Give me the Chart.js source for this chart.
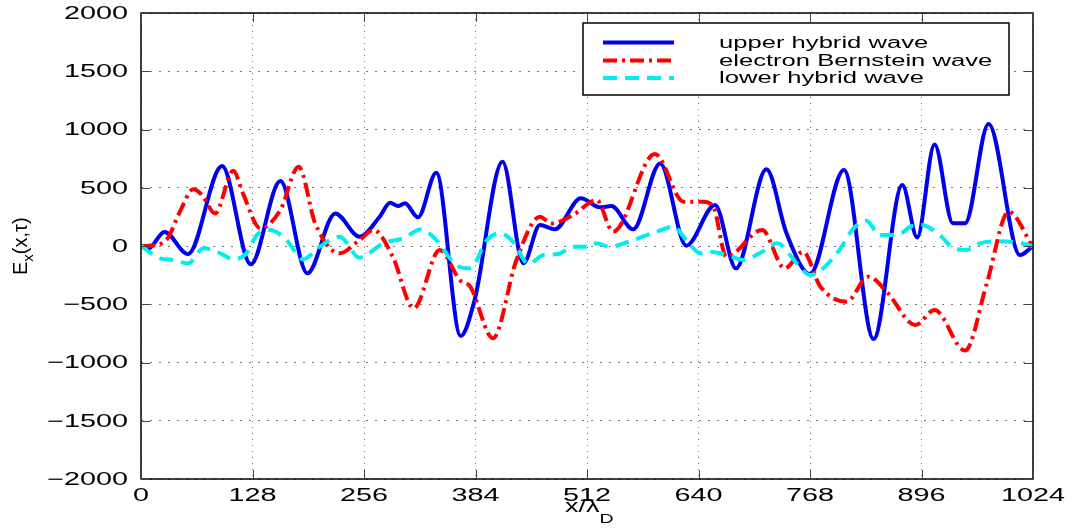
<!DOCTYPE html>
<html>
<head>
<meta charset="utf-8">
<title>E_x(x,τ) wave components</title>
<script src="https://cdn.jsdelivr.net/npm/chart.js@4.4.1/dist/chart.umd.min.js"></script>
<style>
  html, body { margin: 0; padding: 0; background: #ffffff; }
  #wrap { width: 1076px; height: 530px; }
</style>
</head>
<body>
<div id="wrap"><canvas id="c" width="1076" height="530"></canvas></div>
<script>
// Axis ticks
const xTicks = [0, 128, 256, 384, 512, 640, 768, 896, 1024];
const yTicks = [-2000, -1500, -1000, -500, 0, 500, 1000, 1500, 2000];

// Series names
const seriesNames = ['upper hybrid wave', 'electron Bernstein wave', 'lower hybrid wave'];

// upper hybrid wave
const uhX = [0, 8, 27, 54, 93, 126, 160, 191, 223, 251, 274, 286, 295, 303, 318, 339, 367, 383, 415, 439,
             458, 475, 505, 527, 540, 565, 596, 626, 659, 683, 718, 741, 768, 807, 841, 874, 891, 911,
             932, 946, 973, 1009, 1024];
const uhE = [0, -25, 120, -70, 686, -157, 558, -234, 280, 80, 251, 372, 343, 366, 246, 629, -772, -463, 723, -149,
             180, 143, 409, 332, 343, 143, 709, 3, 352, -192, 658, 109, -240, 652, -798, 523, 74, 872,
             195, 195, 1047, -77, 0];

// electron Bernstein wave
const ebX = [0, 10, 29, 45, 60, 70, 85, 106, 117, 137, 160, 181, 200, 228, 251, 267, 289, 313, 343, 366,
             378, 404, 431, 458, 471, 496, 523, 542, 590, 623, 645, 657, 672, 713, 739, 760, 780, 810,
             835, 856, 889, 911, 946, 971, 996, 1024];
const ebE = [0, 3, 51, 300, 487, 438, 280, 646, 452, 152, 309, 680, 194, -63, 51, 137, -92, -535, -34, -292,
             -349, -792, -120, 251, 194, 266, 395, 123, 789, 380, 380, 337, -92, 137, -192, -49, -349, -478,
             -263, -392, -678, -549, -898, -320, 294, -10];

// lower hybrid wave
const lhX = [0, 22, 37, 54, 72, 91, 106, 121, 133, 148, 167, 186, 205, 228, 251, 278, 301, 322, 339, 362,
             378, 397, 412, 427, 445, 462, 479, 496, 515, 523, 538, 565, 592, 611, 626, 642, 653, 672,
             692, 713, 730, 753, 768, 799, 818, 833, 848, 868, 885, 896, 917, 933, 948, 963, 982, 1005, 1024];
const lhE = [0, -106, -120, -149, -20, -63, -114, -63, 94, 137, 51, -114, -6, 80, -100, 23, 66, 143, 51, -163,
             -192, 51, 109, 37, -154, -77, -69, -6, -6, 23, -6, 51, 123, 166, 51, -63, -49, -77,
             -120, -49, 23, -149, -249, -63, 152, 217, 94, 94, 172, 180, 94, -20, -34, 23, 40, 30, 0];

const toPoints = (xs, ys) => xs.map((x, i) => ({ x: x, y: ys[i] }));

const FONT = '"Liberation Sans", Arial, Helvetica, sans-serif';
const STRETCH = 1.6;

function wideText(ctx, text, x, y, align, size, sx) {
  ctx.save();
  ctx.font = size + 'px ' + FONT;
  ctx.translate(x, y);
  ctx.scale(sx, 1);
  ctx.textAlign = align;
  ctx.fillText(text, 0, 0);
  const w = ctx.measureText(text).width * sx;
  ctx.restore();
  return w;
}

const styles = [
  { color: '#0000ee', width: 4, dash: [] },
  { color: '#ff0000', width: 4, dash: [14, 5, 3, 5] },
  { color: '#00eeee', width: 4, dash: [14, 8] }
];

// Frame, inward ticks, tick labels, axis titles and legend
const decor = {
  id: 'decor',
  afterDatasetsDraw(chart) {
    const ctx = chart.ctx;
    const a = chart.chartArea;
    const xs = chart.scales.x, ys = chart.scales.y;
    ctx.save();

    // box
    ctx.strokeStyle = '#000';
    ctx.lineWidth = 1.5;
    ctx.setLineDash([]);
    ctx.strokeRect(a.left, a.top, a.right - a.left, a.bottom - a.top);

    // inward tick marks
    ctx.strokeStyle = '#444';
    ctx.lineWidth = 1;
    const tl = 9;
    ctx.beginPath();
    xTicks.forEach(v => {
      const px = Math.round(xs.getPixelForValue(v)) + 0.5;
      ctx.moveTo(px, a.bottom); ctx.lineTo(px, a.bottom - tl);
      ctx.moveTo(px, a.top); ctx.lineTo(px, a.top + tl);
    });
    yTicks.forEach(v => {
      const py = Math.round(ys.getPixelForValue(v)) + 0.5;
      ctx.moveTo(a.left, py); ctx.lineTo(a.left + tl, py);
      ctx.moveTo(a.right, py); ctx.lineTo(a.right - tl, py);
    });
    ctx.stroke();

    // tick labels
    ctx.fillStyle = '#000';
    ctx.textBaseline = 'middle';
    yTicks.forEach(v => {
      const label = v < 0 ? '\u2212' + Math.abs(v) : String(v);
      wideText(ctx, label, a.left - 13, ys.getPixelForValue(v) + 1, 'right', 18, STRETCH);
    });
    ctx.textBaseline = 'alphabetic';
    xTicks.forEach(v => {
      wideText(ctx, String(v), xs.getPixelForValue(v), 501, 'center', 18, STRETCH);
    });

    // x title: x/λ_D
    const w1 = wideText(ctx, 'x/\u03bb', 565, 512, 'left', 18, 1.5);
    wideText(ctx, 'D', 565 + w1, 523, 'left', 13, 1.5);

    // y title: E_x(x,τ)
    ctx.save();
    ctx.translate(27, 275);
    ctx.rotate(-Math.PI / 2);
    ctx.textAlign = 'left';
    ctx.font = '20px ' + FONT;
    ctx.fillText('E', 0, 0);
    let off = ctx.measureText('E').width;
    ctx.font = '15px ' + FONT;
    ctx.fillText('x', off, 6);
    off += ctx.measureText('x').width;
    ctx.font = '20px ' + FONT;
    ctx.fillText('(x,\u03c4)', off, 0);
    ctx.restore();

    // legend
    const lx = 583, ly = 23, lw = 426, lh = 72;
    ctx.fillStyle = '#fff';
    ctx.fillRect(lx, ly, lw, lh);
    ctx.strokeStyle = '#000';
    ctx.lineWidth = 1.5;
    ctx.strokeRect(lx, ly, lw, lh);
    const rows = [42.5, 60.5, 78];
    seriesNames.forEach((name, i) => {
      const s = styles[i];
      ctx.strokeStyle = s.color;
      ctx.lineWidth = s.width;
      ctx.setLineDash(s.dash);
      ctx.beginPath();
      ctx.moveTo(603, rows[i]);
      ctx.lineTo(674, rows[i]);
      ctx.stroke();
      ctx.setLineDash([]);
      ctx.fillStyle = '#000';
      ctx.textBaseline = 'alphabetic';
      wideText(ctx, name, 719, rows[i] + 5, 'left', 16, STRETCH);
    });

    ctx.restore();
  }
};

const seriesData = [toPoints(uhX, uhE), toPoints(ebX, ebE), toPoints(lhX, lhE)];

new Chart(document.getElementById('c'), {
  type: 'line',
  data: {
    datasets: seriesNames.map((name, i) => ({
      label: name,
      data: seriesData[i],
      borderColor: styles[i].color,
      borderWidth: styles[i].width,
      borderDash: styles[i].dash,
      borderJoinStyle: 'round',
      pointRadius: 0,
      fill: false,
      cubicInterpolationMode: 'monotone',
      order: 3 - i
    }))
  },
  options: {
    responsive: false,
    devicePixelRatio: 1,
    animation: false,
    layout: { padding: { left: 0, right: 43, top: 13, bottom: 0 } },
    plugins: { legend: { display: false }, tooltip: { enabled: false } },
    scales: {
      x: {
        type: 'linear',
        min: 0,
        max: 1024,
        afterBuildTicks: s => { s.ticks = xTicks.map(v => ({ value: v })); },
        afterFit: s => { s.height = 51; },
        ticks: { display: false },
        grid: { color: '#777', lineWidth: 1, drawTicks: false },
        border: { display: false, dash: [1, 5] }
      },
      y: {
        type: 'linear',
        min: -2000,
        max: 2000,
        afterBuildTicks: s => { s.ticks = yTicks.map(v => ({ value: v })); },
        afterFit: s => { s.width = 141; },
        ticks: { display: false },
        grid: { color: '#777', lineWidth: 1, drawTicks: false },
        border: { display: false, dash: [2, 7] }
      }
    }
  },
  plugins: [decor]
});
</script>
</body>
</html>
